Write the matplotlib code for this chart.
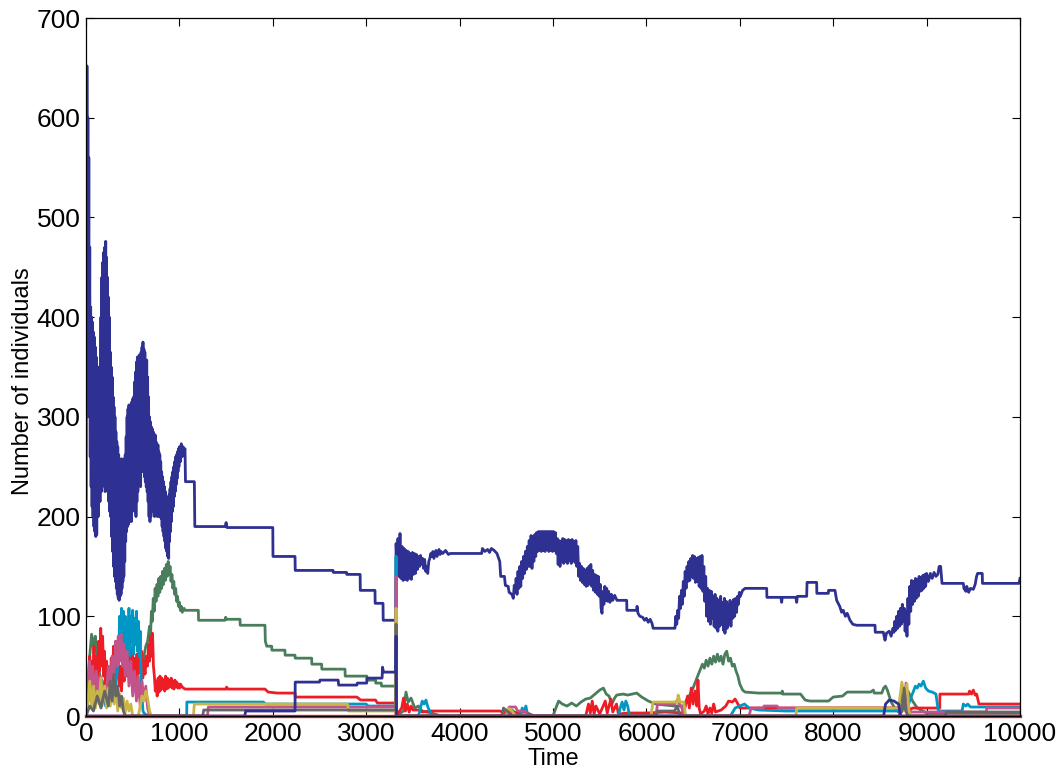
import matplotlib
matplotlib.use("Agg")
import matplotlib.pyplot as plt

plt.rcParams['font.family'] = ['Liberation Sans', 'DejaVu Sans']

# ---------------------------------------------------------------
# Population trajectories (time, number of individuals) per species
# ---------------------------------------------------------------

# dominant species (navy)
sp1_t = [0, 10, 15, 20, 25, 30, 35, 40, 45, 50, 55, 60, 65, 70, 75, 80, 85, 90, 95, 100,
         105, 110, 115, 120, 130, 140, 150, 160, 165, 170, 175, 180, 185, 190, 195, 200,
         205, 211, 215, 220, 225, 230, 235, 240, 245, 250, 255, 260, 265, 270, 275, 280,
         285, 290, 295, 300, 305, 310, 315, 320, 325, 330, 335, 340, 345, 350, 355, 360,
         365, 370, 375, 380, 385, 390, 395, 400, 405, 410, 415, 420, 425, 430, 435, 440,
         445, 450, 455, 460, 465, 470, 475, 480, 485, 490, 495, 500, 505, 510, 515, 520,
         525, 530, 535, 540, 545, 550, 555, 560, 565, 570, 575, 580, 585, 590, 595, 600,
         605, 610, 615, 620, 625, 630, 635, 640, 645, 650, 655, 660, 665, 670, 675, 680,
         685, 690, 695, 700, 705, 710, 715, 720, 725, 730, 735, 740, 745, 750, 755, 760,
         765, 770, 775, 780, 785, 790, 795, 800, 805, 810, 815, 820, 825, 830, 835, 840,
         845, 850, 855, 860, 865, 870, 875, 880, 885, 890, 895, 900, 905, 910, 915, 920,
         925, 930, 935, 940, 945, 950, 955, 960, 965, 970, 975, 980, 985, 990, 995, 1000,
         1010, 1020, 1030, 1040, 1050, 1060,
         1065, 1160, 1165, 1490, 1500, 1510, 2000, 2002, 2238, 2240, 2645, 2648, 2790,
         2792, 2935, 2937, 3094, 3096, 3180, 3182, 3315, 3320,
         3330, 3340, 3350, 3362, 3372, 3384, 3395, 3406, 3417, 3428, 3439, 3450, 3461,
         3472, 3483, 3494, 3505, 3516, 3527, 3538, 3549, 3560, 3571, 3582, 3593, 3604,
         3615, 3626, 3637, 3648, 3659, 3670, 3681, 3692, 3703, 3714, 3725, 3736, 3747,
         3758, 3769, 3780, 3791, 3802, 3820, 3850, 3880, 3900,
         4236, 4245, 4270, 4300, 4320, 4340, 4370, 4400, 4430, 4440, 4480, 4490, 4520,
         4530, 4560, 4575, 4585, 4595,
         4605, 4615, 4625, 4635, 4645, 4655, 4665, 4675, 4685, 4695, 4705, 4715, 4725,
         4735, 4745, 4755, 4765, 4775, 4785, 4795, 4805, 4815, 4825, 4835, 4845, 4855,
         4865, 4875, 4885, 4895, 4905, 4915, 4925, 4935, 4945, 4955, 4965, 4975, 4985,
         4995, 5005, 5015, 5025, 5035, 5045, 5055, 5065, 5075, 5085, 5095, 5105, 5115,
         5125, 5135, 5145, 5155, 5165, 5175, 5185, 5195, 5205, 5215, 5225, 5235, 5245,
         5255, 5265, 5275, 5285, 5295, 5305, 5315, 5325, 5335, 5345, 5355, 5365, 5375,
         5385, 5395, 5405, 5415, 5425, 5435, 5445, 5455, 5465, 5475, 5485, 5495, 5505,
         5515, 5525, 5535, 5545, 5555, 5565, 5575, 5585, 5595, 5610, 5625, 5640, 5660,
         5685, 5789, 5791, 5896, 5900, 5910, 5930, 5960, 5980, 6000, 6020, 6040, 6060,
         6072, 6306,
         6315, 6325, 6335, 6345, 6355, 6365, 6375, 6385, 6395, 6405, 6415, 6425, 6435,
         6445, 6455, 6465, 6475, 6485, 6495, 6505, 6515, 6525, 6535, 6545, 6555, 6565,
         6575, 6585, 6595, 6605, 6615, 6625, 6635, 6645, 6655, 6665, 6675, 6685, 6695,
         6705, 6715, 6725, 6735, 6745, 6755, 6765, 6775, 6785, 6795, 6805, 6815, 6825,
         6835, 6841, 6855, 6865, 6875, 6885, 6895, 6905, 6915, 6925, 6935, 6945, 6955,
         6965, 6975, 6985, 6995, 7005, 7030, 7056, 7288, 7290, 7440, 7448, 7455, 7600,
         7609, 7616, 7716, 7720, 7823, 7825, 7948, 7950, 8019, 8037, 8070, 8090, 8108,
         8130, 8150, 8180, 8210, 8251, 8448, 8450, 8537, 8545, 8555, 8570, 8600, 8620,
         8640,
         8650, 8660, 8670, 8680, 8690, 8700, 8710, 8720, 8730, 8740, 8750, 8760, 8770,
         8780, 8790, 8800, 8810, 8820, 8830, 8840, 8850, 8860, 8870, 8880, 8890, 8900,
         8910, 8920, 8930, 8940, 8950, 8960, 8970, 8980, 8990, 9000, 9020, 9040, 9060,
         9080, 9100, 9120, 9135, 9143, 9150, 9165, 9393, 9400, 9420, 9430, 9450, 9470,
         9500, 9520, 9535, 9546, 9596, 9598, 9990, 10000]
sp1_n = [100, 652, 420, 600, 330, 560, 300, 470, 260, 410, 230, 400, 210, 395, 200, 385, 190, 380, 185, 370,
         180, 360, 182, 340, 200, 350, 215, 400, 225, 440, 230, 455, 240, 465, 235, 470,
         225, 476, 240, 460, 230, 440, 225, 420, 215, 400, 205, 365, 200, 350, 180, 340,
         165, 320, 150, 310, 140, 300, 135, 285, 128, 275, 122, 270, 118, 262, 116, 255,
         120, 250, 122, 258, 128, 255, 135, 250, 140, 258, 155, 262, 175, 280, 185, 300,
         190, 308, 192, 312, 195, 310, 200, 305, 195, 315, 205, 318, 215, 320, 220, 335,
         205, 345, 200, 355, 215, 360, 225, 350, 235, 362, 240, 358, 230, 365, 245, 370,
         250, 375, 245, 368, 240, 365, 235, 355, 230, 357, 225, 340, 215, 320, 200, 300,
         195, 295, 200, 290, 205, 288, 210, 285, 205, 280, 200, 282, 210, 275, 205, 270,
         200, 272, 205, 265, 200, 262, 205, 255, 198, 245, 190, 240, 185, 235, 180, 230,
         175, 225, 168, 220, 165, 218, 160, 215, 158, 222, 175, 228, 185, 235, 195, 240,
         205, 245, 210, 250, 220, 255, 225, 260, 232, 262, 238, 265, 245, 268, 250, 270,
         255, 273, 260, 270, 265, 268,
         235, 235, 190, 190, 194, 189, 189, 160, 160, 146, 146, 144, 144,
         142, 142, 126, 126, 113, 113, 96, 96, 173,
         150, 178, 140, 183, 138, 170, 136, 168, 137, 166, 136, 165, 138,
         163, 137, 164, 142, 163, 143, 162, 147, 160, 150, 161, 152, 158,
         148, 157, 145, 150, 143, 155, 158, 163, 160, 165, 158, 162, 166,
         160, 164, 167, 162, 165, 163, 166, 162, 163,
         163, 168, 165, 167, 164, 168, 166, 163, 155, 140, 140, 131, 130,
         124, 122, 118, 131, 124,
         138, 122, 145, 128, 150, 130, 155, 138, 160, 143, 165, 147, 170,
         150, 176, 150, 181, 148, 180, 155, 182, 160, 184, 165, 185, 166,
         185, 165, 185, 166, 185, 165, 185, 167, 185, 165, 185, 166, 185,
         165, 185, 166, 184, 163, 178, 152, 176, 150, 175, 155, 178, 153,
         177, 155, 176, 153, 177, 156, 176, 153, 177, 156, 175, 154, 176,
         150, 170, 140, 153, 136, 150, 134, 148, 132, 146, 130, 148, 131,
         150, 133, 152, 130, 146, 126, 142, 124, 141, 122, 140, 120, 132,
         108, 103, 125, 112, 130, 116, 128, 115, 125, 114, 122, 116, 121,
         116, 116, 106, 106, 110, 103, 100, 99, 96, 98, 94, 97, 93,
         88, 88,
         100, 92, 106, 98, 120, 108, 126, 112, 135, 120, 145, 128, 150,
         135, 155, 136, 158, 140, 161, 138, 160, 134, 158, 135, 159, 130,
         160, 128, 161, 125, 150, 115, 140, 100, 128, 95, 126, 92, 125,
         98, 120, 90, 122, 88, 118, 85, 116, 90, 120, 92, 114, 86,
         118, 83, 115, 88, 112, 94, 116, 90, 114, 98, 117, 100, 118,
         104, 120, 112, 124, 120, 126, 128, 128, 119, 119, 114, 119, 119,
         114, 120, 120, 134, 134, 123, 123, 126, 126, 116, 110, 104, 106,
         100, 103, 96, 92, 91, 91, 84, 84, 80, 76, 83, 85, 80,
         88,
         84, 95, 86, 100, 88, 105, 90, 108, 92, 112, 95, 108, 85,
         105, 80, 118, 92, 130, 105, 136, 112, 135, 115, 138, 118, 137,
         120, 140, 125, 139, 126, 141, 128, 142, 130, 143, 135, 143, 138,
         144, 140, 142, 150, 146, 150, 133, 133, 128, 125, 130, 124, 128,
         127, 132, 140, 143, 143, 133, 133, 138]

# second species (dark green)
sp2_t = [0, 20, 40, 60, 80, 100, 120, 150, 200, 250, 300, 350, 400, 450, 500, 520, 560, 600,
         620, 640, 660, 680, 690, 700, 710, 720, 730, 740, 750, 760, 770, 780, 790, 800,
         810, 820, 830, 840, 850, 860, 870, 880, 890, 900, 910, 920, 930, 940, 950, 960,
         970, 980, 990, 1000, 1010, 1020, 1030, 1050, 1060, 1203, 1205, 1488, 1495, 1505,
         1649, 1651, 1916, 1920, 1935, 1988, 1990, 2130, 2132, 2238, 2240, 2416, 2418,
         2523, 2525, 2773, 2775, 3007, 3009, 3100, 3102, 3162, 3164, 3315, 3320,
         3400, 3426, 3450, 3480, 3520, 3560, 3600, 3700, 3800, 4500, 4560, 4600, 4700,
         5000, 5039, 5060, 5100, 5150, 5200, 5250, 5300, 5350, 5400, 5450, 5500, 5540,
         5570, 5600, 5630, 5660, 5682, 5750, 5800, 5896, 5950, 6021, 6100, 6200, 6300,
         6395, 6430, 6470, 6500, 6540, 6570, 6600, 6620, 6640, 6660, 6680, 6700, 6720,
         6740, 6760, 6780, 6800, 6820, 6840, 6860, 6880, 6900, 6920, 6940, 6960, 6980,
         7000, 7030, 7056, 7200, 7450, 7455, 7460, 7650, 7700, 7750, 7950, 8000, 8100,
         8150, 8400, 8430, 8440, 8520, 8540, 8560, 8580, 8620, 8660, 8700, 8750, 8800,
         8850, 8900, 9000, 10000]
sp2_n = [0, 30, 60, 82, 70, 80, 55, 40, 30, 35, 45, 55, 60, 65, 55, 40, 50, 45,
         60, 70, 75, 90, 78, 105, 95, 118, 105, 128, 115, 132, 120, 138, 124, 140,
         128, 145, 132, 148, 136, 152, 140, 155, 142, 150, 135, 142, 128, 135, 122, 128,
         115, 120, 110, 114, 106, 110, 104, 108, 106, 106, 96, 96, 99, 97,
         97, 91, 91, 75, 70, 70, 66, 66, 61, 61, 58, 58, 52,
         52, 47, 47, 40, 40, 36, 36, 33, 33, 30, 30, 0,
         5, 24, 14, 18, 8, 10, 5, 3, 0, 0, 6, 3, 0,
         0, 10, 15, 12, 10, 13, 10, 14, 17, 18, 22, 26, 28,
         22, 20, 12, 18, 21, 22, 21, 23, 19, 15, 12, 11, 10,
         10, 16, 22, 28, 38, 45, 52, 48, 56, 50, 58, 52, 60,
         54, 62, 55, 60, 52, 62, 65, 55, 58, 50, 52, 45, 40,
         32, 26, 24, 23, 23, 25, 22, 22, 16, 15, 15, 19, 20,
         24, 24, 26, 23, 23, 28, 30, 26, 14, 8, 4, 28, 25,
         15, 8, 3, 3]

# third species (red)
sp3_t = [0, 15, 25, 40, 50, 60, 70, 85, 95, 110, 120, 135, 145, 158, 168, 178, 188, 198,
         208, 220, 232, 245, 258, 270, 282, 295, 305, 318, 330, 342, 355, 368, 380, 395,
         408, 420, 432, 445, 458, 470, 482, 495, 508, 520, 532, 545, 558, 570, 582, 595,
         608, 620, 632, 645, 658, 670, 680, 690, 700, 712, 722, 732, 742, 752, 762, 772,
         782, 792, 802, 812, 822, 832, 842, 852, 862, 872, 882, 892, 902, 912, 922, 932,
         942, 952, 962, 972, 982, 992, 1002, 1012, 1030, 1060, 1500, 1505, 1520, 1916,
         1950, 2050, 2238, 2240, 2900, 2940, 3100, 3120, 3315, 3320, 3380, 3400, 3420,
         3440, 3460, 3480, 3500, 3560, 3600, 3700, 3800, 4430, 4500, 4700, 4800, 5350,
         5380, 5400, 5420, 5440, 5460, 5500, 5560, 5580, 5620, 5640, 5680, 5700, 5800,
         6000, 6200, 6400, 6440, 6460, 6480, 6500, 6520, 6540, 6552, 6565, 6580, 6620,
         6640, 6660, 6680, 6700, 6720, 6740, 6800, 6850, 6880, 6920, 6950, 6980, 7000,
         7050, 8700, 8760, 8780, 8800, 8820, 8850, 9140, 9143, 9450, 9460, 9480, 9500,
         9520, 9536, 9560, 10000]
sp3_n = [0, 40, 20, 60, 30, 55, 25, 70, 40, 60, 30, 75, 45, 88, 50, 80, 40, 65,
         30, 55, 25, 45, 20, 58, 35, 70, 40, 75, 45, 60, 30, 50, 25, 55,
         35, 62, 40, 72, 48, 80, 50, 68, 40, 58, 35, 62, 42, 70, 50, 65,
         38, 55, 42, 60, 50, 72, 55, 80, 60, 83, 50, 40, 25, 35, 20, 38,
         24, 40, 26, 38, 28, 36, 25, 40, 27, 38, 28, 36, 30, 38, 28, 35,
         27, 36, 30, 34, 28, 32, 28, 32, 29, 27, 27, 29, 27, 27,
         24, 23, 23, 19, 19, 16, 16, 13, 13, 0, 8, 18, 5,
         12, 4, 10, 6, 6, 4, 5, 5, 5, 3, 4, 0, 0,
         12, 3, 15, 2, 10, 2, 15, 3, 17, 4, 12, 2, 3,
         3, 4, 3, 20, 8, 28, 12, 25, 10, 36, 8, 2, 5,
         10, 2, 8, 3, 12, 4, 6, 10, 15, 14, 17, 12, 8,
         8, 8, 12, 4, 12, 6, 8, 8, 22, 22, 25, 22, 26,
         21, 22, 12, 12]

# fourth species (cyan)
sp4_t = [0, 30, 50, 70, 100, 130, 170, 210, 250, 290, 330, 350, 360, 370, 380, 390, 400,
         410, 420, 430, 440, 450, 460, 470, 480, 490, 500, 510, 520, 530, 540, 550, 560,
         570, 580, 590, 600, 610, 620, 660, 1078, 1080, 1900, 1920, 3000, 3020, 3315,
         3320, 3325, 3560, 3580, 3600, 3620, 3640, 3660, 3680, 3700, 4650, 4670, 4690,
         4710, 4730, 5700, 5720, 5740, 5760, 5780, 5800, 5820, 6900, 6950, 7000, 7050,
         7100, 7200, 7500, 8700, 8800, 8830, 8860, 8880, 8900, 8920, 8940, 8965, 8990,
         9020, 9060, 9100, 9125, 9380, 9393, 9420, 9440, 9470, 9540, 10000]
sp4_n = [0, 20, 45, 10, 30, 15, 35, 10, 25, 15, 40, 60, 100, 70, 108, 75, 105,
         65, 100, 55, 95, 70, 108, 60, 100, 75, 106, 62, 98, 72, 105, 65, 95,
         60, 85, 40, 20, 5, 3, 0, 0, 14, 14, 12, 12, 10, 10,
         160, 0, 0, 8, 15, 12, 16, 9, 5, 0, 0, 8, 5,
         10, 0, 0, 8, 14, 6, 15, 10, 0, 0, 8, 10, 12,
         8, 6, 5, 5, 10, 18, 25, 30, 28, 32, 30, 35, 28,
         25, 24, 22, 5, 5, 12, 10, 12, 9, 9, 9]

# fifth species (magenta)
sp5_t = [0, 20, 35, 50, 70, 90, 110, 130, 150, 170, 190, 210, 240, 260, 280, 300, 320,
         335, 345, 360, 375, 390, 405, 420, 440, 460, 480, 500, 520, 540, 560, 580, 600,
         620, 640, 660, 680, 1300, 1310, 3315, 3320, 3325, 4520, 4530, 4600, 4620, 4700,
         4720, 6100, 6120, 6300, 6330, 6380, 6400, 7100, 7120, 7250, 7260, 7400, 7410,
         8700, 8760, 8780, 8800, 8820, 9640, 9643, 10000]
sp5_n = [0, 30, 55, 25, 50, 20, 45, 25, 40, 10, 30, 15, 50, 30, 60, 40, 75,
         50, 80, 55, 82, 50, 72, 40, 65, 30, 55, 20, 45, 15, 40, 10, 35,
         15, 30, 8, 0, 0, 9, 9, 140, 0, 0, 9, 9, 5, 5,
         0, 0, 12, 12, 16, 8, 0, 0, 8, 8, 10, 10, 8,
         8, 10, 33, 10, 4, 4, 8, 8]

# sixth species (olive yellow)
sp6_t = [0, 20, 40, 60, 80, 100, 120, 140, 160, 180, 200, 220, 240, 260, 280, 300, 320,
         340, 360, 380, 400, 420, 440, 460, 480, 500, 560, 580, 600, 620, 640, 660, 680,
         700, 1150, 1160, 2800, 2810, 3315, 3320, 3325, 4500, 4520, 4560, 4600, 6050,
         6070, 6330, 6340, 6360, 6400, 6420, 7600, 7610, 8700, 8735, 8760, 8790, 8810,
         8830, 10000]
sp6_n = [0, 15, 35, 10, 30, 8, 25, 12, 38, 15, 30, 8, 28, 10, 32, 12, 25,
         5, 22, 8, 18, 3, 15, 5, 12, 0, 0, 10, 20, 15, 25, 18, 5,
         0, 0, 12, 12, 5, 5, 108, 0, 0, 8, 5, 0, 0,
         14, 14, 21, 14, 14, 0, 0, 8, 8, 34, 20, 32, 5,
         0, 0]

# seventh species (grey)
sp7_t = [0, 40, 80, 120, 160, 200, 240, 260, 280, 300, 320, 340, 360, 380, 400, 420,
         1250, 1260, 3315, 3320, 3325, 4450, 4470, 4520, 4560, 6100, 6120, 6300, 6330,
         6360, 8700, 8740, 8760, 8780, 8800, 9200, 9210, 10000]
sp7_n = [0, 10, 5, 20, 8, 25, 10, 35, 15, 42, 20, 30, 10, 20, 5, 0,
         0, 6, 6, 92, 0, 0, 8, 4, 0, 0, 5, 5, 10,
         0, 0, 5, 28, 5, 0, 0, 4, 4]

# eighth species (navy, minor)
sp8_t = [0, 1700, 1710, 2238, 2240, 2500, 2505, 2700, 2705, 2900, 2905, 3005, 3010, 3170,
         3175, 3185, 3315, 3320, 3325, 8540, 8560, 8600, 8650, 8700, 8720, 10000]
sp8_n = [0, 0, 5, 5, 34, 34, 36, 36, 31, 31, 33, 33, 38, 38,
         49, 44, 44, 80, 0, 0, 12, 16, 15, 12, 0, 0]

# extinct species resting on zero (red)
sp9_t = [0, 10000]
sp9_n = [0, 0]

NAVY = '#2E3192'
GREEN = '#4A7D5C'
RED = '#EE1C25'
CYAN = '#0097C4'
MAGENTA = '#C2538B'
OLIVE = '#C9B646'
GREY = '#666666'

fig = plt.figure(figsize=(10.64, 7.70), dpi=100)
ax = fig.add_axes([86 / 1064, 1 - 716 / 770, (1020 - 86) / 1064, (716 - 18) / 770])

lw = 2.0
ax.plot(sp1_t, sp1_n, color=NAVY, lw=lw)
ax.plot(sp2_t, sp2_n, color=GREEN, lw=lw)
ax.plot(sp3_t, sp3_n, color=RED, lw=lw)
ax.plot(sp4_t, sp4_n, color=CYAN, lw=lw)
ax.plot(sp5_t, sp5_n, color=MAGENTA, lw=lw)
ax.plot(sp6_t, sp6_n, color=OLIVE, lw=lw)
ax.plot(sp7_t, sp7_n, color=GREY, lw=lw)
ax.plot(sp8_t, sp8_n, color=NAVY, lw=lw)
ax.plot(sp9_t, sp9_n, color=RED, lw=2.4, clip_on=False)

ax.set_xlim(0, 10000)
ax.set_ylim(0, 700)
ax.set_xticks(range(0, 10001, 1000))
ax.set_yticks(range(0, 701, 100))
ax.tick_params(direction='in', length=6, width=0.8, top=True, right=True,
               labelsize=19, pad=4)
for s in ax.spines.values():
    s.set_linewidth(0.9)

ax.set_xlabel('Time', fontsize=17)
ax.xaxis.set_label_coords(0.5, -0.046)
ax.set_ylabel('Number of individuals', fontsize=17)
ax.yaxis.set_label_coords(-0.056, 0.48)

fig.savefig('out.png', dpi=100)
